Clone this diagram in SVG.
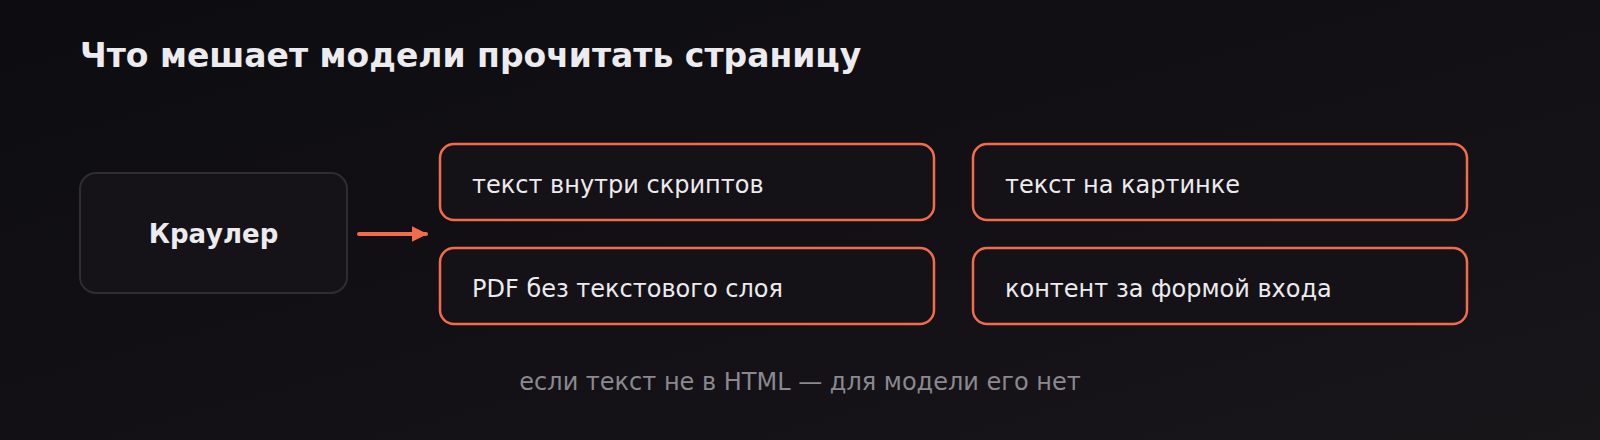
<svg xmlns="http://www.w3.org/2000/svg" width="1600" height="440" viewBox="0 0 1600 440">
<defs>
<linearGradient id="bg" x1="0" y1="0" x2="1" y2="1">
<stop offset="0" stop-color="#0d0c10"/>
<stop offset="0.6" stop-color="#131116"/>
<stop offset="1" stop-color="#19161a"/>
</linearGradient>
<marker id="ah" viewBox="0 0 10 10" refX="9" refY="5" markerWidth="4" markerHeight="4" markerUnits="strokeWidth" orient="auto">
<path d="M0,0 L10,5 L0,10 z" fill="#f26b4b"/>
</marker>
<style>
.t{font-family:"DejaVu Sans","Noto Sans",sans-serif;}
.title{font-size:33px;font-weight:bold;fill:#ecebee;}
.box{fill:#141217;stroke:#f26b4b;stroke-width:2.5;}
.src{fill:#151318;stroke:#2f2d32;stroke-width:2;}
.lbl{font-size:24px;fill:#ecebee;}
.bold{font-size:26px;font-weight:bold;fill:#ecebee;}
.note{font-size:24px;fill:#8b898f;}
</style>
</defs>
<rect width="1600" height="440" fill="url(#bg)"/>
<text class="t title" x="80" y="67">Что мешает модели прочитать страницу</text>
<g id="crawler">
<rect class="src" x="80" y="173" width="267" height="120" rx="16"/>
<text class="t bold" x="213.5" y="234" text-anchor="middle" dominant-baseline="central">Краулер</text>
</g>
<g id="connectors">
<line x1="359" y1="234" x2="426" y2="234" stroke="#f26b4b" stroke-width="4" stroke-linecap="round" marker-end="url(#ah)"/>
</g>
<g id="scripts">
<rect class="box" x="440" y="144" width="494" height="76" rx="14"/>
<text class="t lbl" x="472" y="185" dominant-baseline="central">текст внутри скриптов</text>
</g>
<g id="image">
<rect class="box" x="973" y="144" width="494" height="76" rx="14"/>
<text class="t lbl" x="1005" y="185" dominant-baseline="central">текст на картинке</text>
</g>
<g id="pdf">
<rect class="box" x="440" y="248" width="494" height="76" rx="14"/>
<text class="t lbl" x="472" y="289" dominant-baseline="central">PDF без текстового слоя</text>
</g>
<g id="login">
<rect class="box" x="973" y="248" width="494" height="76" rx="14"/>
<text class="t lbl" x="1005" y="289" dominant-baseline="central">контент за формой входа</text>
</g>
<text class="t note" x="800" y="382" text-anchor="middle" dominant-baseline="central">если текст не в HTML — для модели его нет</text>
</svg>
